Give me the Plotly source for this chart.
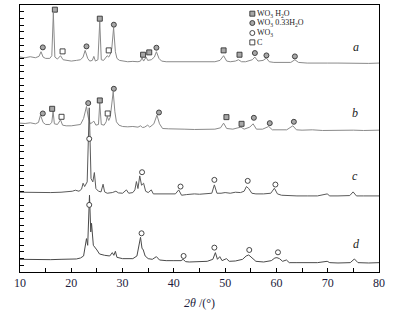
import plotly.graph_objects as go

# ---------------- data (2θ in degrees, intensity in arbitrary stacked units) ----------------
tt_a = [10, 11, 12, 13, 13.7, 14.1, 14.5, 15, 15.8, 16.2, 16.5, 16.8, 17.3, 17.9, 18.4, 19, 20, 21, 21.8,
        22.3, 22.7, 23.2, 23.6, 24.1, 24.4, 24.7, 25.2, 25.55, 25.85, 26.3, 26.8, 27.0, 27.3, 27.6, 27.9,
        28.25, 28.6, 28.9, 29.4, 30, 31, 32, 33, 33.5, 33.8, 34.1, 34.6, 34.9, 35.6, 36.2, 36.6, 37.1, 37.6,
        38.5, 40, 41, 42, 43, 44, 45, 46, 47, 48, 49, 49.7, 50.3, 51, 52, 52.6, 53.2, 54, 55.3, 55.8, 56.4,
        57.4, 58.05, 58.6, 59.5, 61, 62.8, 63.6, 64.3, 66, 68, 70, 72, 74, 76, 78, 80]
I_a = [322, 321, 322.5, 321, 323, 330, 322, 320, 320, 324, 388, 322, 319, 324, 318, 317, 316, 317, 318,
       322, 332, 320, 316, 317, 323, 316, 318, 375, 318, 317, 321, 324, 322, 326, 335,
       366, 330, 320, 317, 316, 315, 315.5, 315, 316, 321, 316, 322, 317, 318, 322, 330, 320, 316,
       315, 315, 314, 315, 314, 315, 314, 315, 314, 315, 317, 324, 316, 315, 316, 318, 315, 315, 318, 322, 316,
       317, 320.5, 315, 314, 313.5, 314, 318, 314, 313, 313.5, 313, 313, 312.5, 313, 312.5, 313]

tt_b = [10, 11, 12, 13, 13.6, 14.0, 14.5, 15, 15.8, 16.2, 16.45, 16.7, 17.3, 17.9, 18.3, 19, 20, 21, 21.8,
        22.4, 22.96, 23.3, 23.7, 24.1, 24.4, 24.8, 25.3, 25.55, 25.85, 26.4, 26.8, 27.0, 27.3, 27.6, 27.9,
        28.17, 28.5, 28.8, 29.3, 30, 31, 32, 33, 33.5, 33.9, 34.3, 34.9, 35.3, 36.1, 36.7, 37.2, 37.8, 39,
        40, 42, 44, 46, 48, 49.1, 49.7, 50.3, 51.5, 52.5, 53.1, 53.7, 54.8, 55.45, 56.1, 57.3, 58.5, 59.2,
        60.5, 62, 63.2, 63.9, 65, 67, 69, 71, 73, 75, 77, 80]
I_b = [223, 222.5, 223.5, 222, 224, 235, 224, 221, 221, 224, 241, 222, 221, 228, 220, 219, 219, 219.5, 221,
       230, 248, 232, 222, 224, 226, 220, 221, 253, 221, 220, 225, 233, 227, 232, 250,
       270, 240, 225, 220, 218, 217.5, 218, 217, 219, 216.5, 217, 220, 217, 222, 235, 222, 215, 214.5,
       214, 214, 213.5, 214, 214, 216, 223, 215, 214, 216, 217, 214, 217, 222, 214, 214, 218, 213,
       213, 213, 219, 213, 212.5, 213, 212, 212.5, 212, 212.5, 212, 212.5]

tt_c = [10, 12, 14, 16, 18, 19.2, 20.2, 20.8, 21.5, 22.0, 22.3, 22.6, 23.1, 23.5, 23.85, 24.2, 24.5, 24.8,
        25.3, 25.8, 26.2, 26.5, 27, 28, 28.7, 29.2, 30, 30.75, 31.2, 32, 32.4, 32.7, 33.0, 33.35, 33.7,
        34.1, 34.5, 35.0, 35.6, 36, 37, 38, 39, 40.3, 40.95, 41.5, 42.5, 44, 45, 46, 47.4, 47.9, 48.4,
        49.2, 50, 51, 52, 53, 53.7, 54.15, 54.6, 55.2, 56, 57.5, 58.9, 59.6, 60.2, 61, 62, 64, 66, 68,
        69.9, 70.4, 72, 74.3, 74.95, 75.6, 77, 79, 80]
I_c = [119.5, 119, 119.5, 119, 119.5, 120, 121, 122.5, 121, 124, 133, 128, 135, 246, 140, 135, 149, 125,
       121, 120, 131.5, 120, 118, 119, 121, 118.5, 118, 123, 118, 119, 123, 135.5, 125, 144, 130,
       133, 121, 119, 123, 117, 117, 116.5, 117, 117, 123, 115, 116, 117, 116.5, 117, 118, 130.5, 118,
       118, 119, 118, 119.5, 119, 121, 128, 125, 118, 117, 117, 118, 125.5, 117, 115, 114.5, 114, 114, 114,
       117, 114, 114, 114.5, 120, 114, 114, 114.5, 114]

tt_d = [10, 12, 14, 16, 18, 20, 21, 21.8, 22.4, 22.96, 23.2, 23.55, 23.8, 23.95, 24.3, 25, 25.5, 26.5,
        27.5, 28.0, 28.3, 28.6, 28.9, 30, 31, 32, 32.8, 33.5, 33.8, 34.0, 34.4, 35, 35.8, 36.6, 37.2,
        38.5, 40, 41.4, 41.8, 42.3, 43, 45, 46.5, 47.6, 48.1, 48.5, 48.95, 49.4, 50.25, 50.8, 52, 53.4,
        54.1, 54.6, 55.2, 56, 57.5, 59, 59.7, 60.1, 60.6, 61.2, 61.95, 62.5, 64, 66, 68, 69.9, 70.4, 72,
        74.4, 75.2, 75.9, 78, 80]
I_d = [19, 18.5, 19, 18.5, 19, 19, 19.5, 21, 24, 50, 40, 115, 60, 73, 40, 33, 27, 25,
       24, 29, 25, 31, 22, 20, 19.5, 20, 24, 52, 35, 34, 24, 20, 19, 23, 18,
       17, 17, 17, 19, 15.5, 15, 15.5, 16, 19, 29, 19, 23, 17, 20, 16, 16.5, 19,
       24, 25.5, 21, 16, 15, 17, 21, 21.5, 20, 16, 18, 14, 14, 13.5, 14, 16, 14, 13.5,
       14, 19.5, 14, 13.5, 14]

# phase markers: WO3·H2O (filled square), WO3·0.33H2O (filled circle), WO3 (open circle), C (open square)
hyd_x = [16.8, 25.56, 34.0, 35.2, 49.7, 52.8, 16.27, 25.56, 50.25, 53.2]
hyd_y = [393, 379.5, 325.5, 329, 332, 325.5, 244.5, 257, 232, 222]
h033_x = [14.45, 22.96, 28.3, 36.6, 55.8, 58.05, 63.6, 14.45, 23.3, 28.3, 37.1, 55.6, 58.7, 63.4]
h033_y = [336.5, 338, 370.5, 336, 328, 324.5, 323, 237.5, 253, 274.5, 239, 231, 223, 225]
wo3_x = [23.5, 33.8, 41.3, 47.9, 54.4, 59.8, 23.5, 33.7, 41.9, 47.9, 54.7, 60.3]
wo3_y = [199.5, 149.5, 128, 138, 136.5, 131, 100.5, 58, 24, 36.5, 33, 29.5]
c_x = [18.3, 27.3, 18.1, 27.1]
c_y = [330.5, 332, 232.5, 237.5]

curve_labels = ["a", "b", "c", "d"]
label_x = [75.6, 75.3, 75.4, 75.6]
label_y = [324, 225, 130, 28]

legend_names = ["WO<sub>3</sub> H<sub>2</sub>O", "WO<sub>3</sub> 0.33H<sub>2</sub>O", "WO<sub>3</sub>", "C"]
x_ticks = [10, 20, 30, 40, 50, 60, 70, 80]

# ---------------- figure ----------------
SERIF = "Liberation Serif, Times New Roman, serif"
fig = go.Figure()

for tt, I, col in [(tt_a, I_a, "#8a8a8a"), (tt_b, I_b, "#8a8a8a"), (tt_c, I_c, "#5a5a5a"), (tt_d, I_d, "#4a4a4a")]:
    fig.add_trace(go.Scatter(x=tt, y=I, mode="lines", line=dict(color=col, width=1), showlegend=False,
                             hoverinfo="skip"))

styles = [
    ("square", "#a8a8a8"),
    ("circle", "#a8a8a8"),
    ("circle", "white"),
    ("square", "white"),
]
for (xs, ys), (sym, fill) in zip([(hyd_x, hyd_y), (h033_x, h033_y), (wo3_x, wo3_y), (c_x, c_y)], styles):
    fig.add_trace(go.Scatter(x=xs, y=ys, mode="markers", showlegend=False,
                             marker=dict(symbol=sym, size=5, color=fill, line=dict(color="#333", width=0.9))))

# manual compact legend (top right)
leg_x = 55.3
leg_y = [387, 373, 358, 344]
for (sym, fill), name, ly in zip(styles, legend_names, leg_y):
    fig.add_trace(go.Scatter(x=[leg_x], y=[ly], mode="markers", showlegend=False,
                             marker=dict(symbol=sym, size=5, color=fill, line=dict(color="#333", width=0.9))))
    fig.add_annotation(x=leg_x + 0.6, y=ly, text=name, showarrow=False, xanchor="left", yanchor="middle",
                       font=dict(family=SERIF, size=8, color="#222"))

for lab, lx, ly in zip(curve_labels, label_x, label_y):
    fig.add_annotation(x=lx, y=ly, text="<i>%s</i>" % lab, showarrow=False, xanchor="center", yanchor="bottom",
                       font=dict(family=SERIF, size=12, color="#222"))

fig.update_layout(
    width=401, height=314,
    margin=dict(l=20, r=22, t=5, b=42),
    paper_bgcolor="white", plot_bgcolor="white",
    font=dict(family=SERIF, size=12, color="#1c1c3c"),
    xaxis=dict(range=[10, 80], tickvals=x_ticks, ticks="inside", ticklen=4, tickcolor="black",
               minor=dict(dtick=5, tick0=10, ticks="inside", ticklen=4, tickcolor="black"),
               showline=True, linecolor="black", linewidth=1, mirror=True, showgrid=False, zeroline=False,
               tickfont=dict(family=SERIF, size=12, color="#1c1c3c"),
               title=dict(text="<i>2θ</i> /(°)", font=dict(family=SERIF, size=12, color="#1c1c3c"), standoff=9)),
    yaxis=dict(range=[0, 400], dtick=10, tick0=0, ticks="inside", ticklen=4, tickcolor="black",
               showticklabels=False, showline=True, linecolor="black", linewidth=1, mirror=True,
               showgrid=False, zeroline=False),
)

fig.write_html("out.html", config={"displayModeBar": False},
               post_script="document.body.style.margin='0';document.body.style.padding='0';")
